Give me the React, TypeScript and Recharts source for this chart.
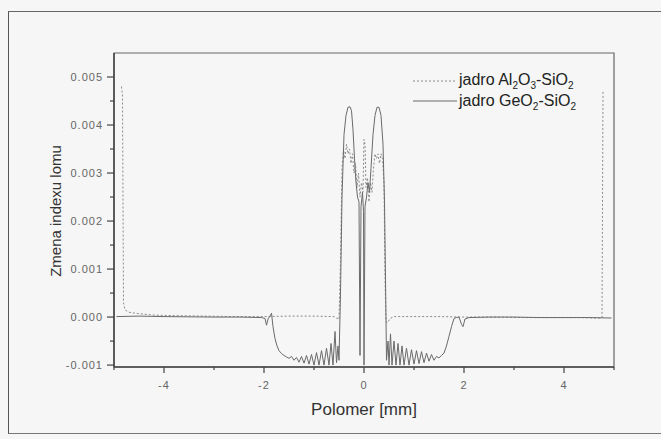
import React from 'react';
import { LineChart, Line, XAxis, YAxis, ReferenceArea } from 'recharts';

// jadro Al2O3-SiO2 (dotted)
const alX = [
  -4.85, -4.83, -4.81, -4.78, -4.7, -4.5, -4.2, -3.8, -3.2, -2.6, -2.0, -1.5, -1.0, -0.6, -0.5,
  -0.47, -0.44, -0.41, -0.38, -0.35, -0.32, -0.29, -0.26, -0.23, -0.2, -0.17, -0.14, -0.11,
  -0.08, -0.05, -0.02, 0.0, 0.02, 0.04, 0.07, 0.1, 0.13, 0.16, 0.19, 0.22, 0.25, 0.28, 0.31,
  0.34, 0.37, 0.4, 0.42, 0.44, 0.47, 0.52, 0.6, 1.0, 1.5, 2.0, 2.6, 3.2, 3.8, 4.3, 4.6, 4.76,
  4.78, 4.8,
];
const alY = [
  0.0048, 0.0046, 0.0003, 0.00015, 0.0001, 0.00007, 0.00004, 0.00003, 0.00002, 0.00001, 0.00001,
  0.00002, 0.00002, 0.00001, -0.00005,
  0.0012, 0.0031, 0.0035, 0.0033, 0.0036, 0.0034, 0.0035, 0.0032, 0.0034, 0.003, 0.0032, 0.0027,
  0.003, 0.0025, 0.0028, 0.0026, 0.0037, 0.0036, 0.0027, 0.0029, 0.0024, 0.0028, 0.0026, 0.0031,
  0.0034, 0.0033, 0.0034, 0.0032, 0.0034, 0.0033, 0.0028, 0.0008, -0.0001, -0.00012, -0.00003,
  0.00001, 0.00001, 0.00001, 0.0, 0.0, -0.00001, -0.00001, -0.00001, -0.00002, -0.00002,
  0.0047, 0.0047,
];

// jadro GeO2-SiO2 (solid)
const geX = [
  -4.95, -4.5, -4.0, -3.0, -2.5, -2.05, -1.98, -1.95, -1.92, -1.88, -1.85, -1.82, -1.78, -1.74,
  -1.7, -1.65, -1.6, -1.55, -1.5, -1.45, -1.4, -1.35, -1.3, -1.25, -1.2, -1.15, -1.1, -1.05, -1.0,
  -0.95, -0.9, -0.85, -0.8, -0.75, -0.7, -0.66, -0.62, -0.58, -0.55, -0.52, -0.5, -0.47, -0.44,
  -0.4, -0.36, -0.32, -0.28, -0.25, -0.22, -0.19, -0.16, -0.13, -0.1, -0.08, -0.06, -0.03, -0.01,
  0.0, 0.02, 0.05, 0.08, 0.11, 0.14, 0.18, 0.22, 0.26, 0.3, 0.34, 0.38, 0.41, 0.43, 0.45, 0.48,
  0.5, 0.53, 0.56, 0.6, 0.64, 0.68, 0.72, 0.76, 0.8, 0.85, 0.9, 0.95, 1.0, 1.05, 1.1, 1.15, 1.2,
  1.25, 1.3, 1.35, 1.4, 1.45, 1.5, 1.55, 1.6, 1.65, 1.7, 1.75, 1.8, 1.85, 1.9, 1.95, 1.98, 2.02,
  2.1, 2.5, 3.0, 3.5, 4.0, 4.5, 4.95,
];
const geY = [
  0.00001, 0.00002, 0.00001, 0.0, 0.0, -0.00001, -0.00003, -0.00017, -0.00004, 0.00002, 0.00008,
  -0.0002, -0.00045, -0.0006, -0.0007, -0.00076, -0.0008, -0.00083, -0.00086, -0.00082, -0.0009,
  -0.00084, -0.00094, -0.00082, -0.00096, -0.0008, -0.00098, -0.00078, -0.001, -0.00074, -0.001,
  -0.0007, -0.001, -0.00065, -0.001, -0.00055, -0.001, -0.0003, -0.00095, -0.0006, -0.0009,
  0.0005, 0.0025, 0.0038, 0.0042, 0.00437, 0.00438, 0.0043, 0.0039, 0.0033, 0.0028, 0.0025,
  0.0024, -0.0008, 0.0023, 0.0026, 0.0022, -0.001, 0.0023, 0.0025, 0.0028, 0.0026, 0.0031,
  0.0038, 0.0042, 0.00437, 0.00437, 0.0042, 0.0036, 0.0024, 0.0008, -0.0009, -0.0005, -0.001,
  -0.00035, -0.001, -0.0005, -0.001, -0.00055, -0.001, -0.0006, -0.001, -0.00065, -0.001,
  -0.00068, -0.00098, -0.0007, -0.00097, -0.00072, -0.00095, -0.00075, -0.00092, -0.00078,
  -0.0009, -0.00082, -0.00085, -0.0008, -0.00075, -0.0006, -0.0004, -0.0002, -0.00003, -0.00001,
  0.0, -0.00015, -0.0002, -0.00004, -0.00001, 0.0, 0.0, -0.00001, -0.00001, -0.00001, -0.00002,
];

const xTicks = [-5, -4, -3, -2, -1, 0, 1, 2, 3, 4, 5];
const yTicks = [
  -0.001, -0.0005, 0, 0.0005, 0.001, 0.0015, 0.002, 0.0025, 0.003, 0.0035, 0.004, 0.0045, 0.005,
];
const legendNames = ['jadro Al2O3-SiO2', 'jadro GeO2-SiO2'];

const alData = alX.map((x, i) => ({ x, y: alY[i] }));
const geData = geX.map((x, i) => ({ x, y: geY[i] }));

const tickFont = '"Liberation Sans", Arial, sans-serif';

const YTick = ({ x, y, payload }: any) => {
  const v = payload.value;
  const major = Math.round(v * 10000) % 10 === 0;
  return (
    <g>
      <line x1={x - (major ? 7 : 4)} x2={x} y1={y} y2={y} stroke="#444" strokeWidth={1.2} />
      {major && (
        <text x={x - 11} y={y} dy={4} textAnchor="end" fontSize={11} fill="#666"
          letterSpacing={1} fontFamily={tickFont}>
          {v.toFixed(3)}
        </text>
      )}
    </g>
  );
};

const XTick = ({ x, y, payload }: any) => {
  const v = payload.value;
  const major = Math.abs(v) % 2 === 0;
  return (
    <g>
      <line x1={x} x2={x} y1={y} y2={y + (major ? 6 : 3)} stroke="#444" strokeWidth={1.2} />
      {major && (
        <text x={x} y={y + 22} textAnchor="middle" fontSize={11} fill="#666"
          letterSpacing={1} fontFamily={tickFont}>
          {v}
        </text>
      )}
    </g>
  );
};

// puts the digits of the oxide formulas in subscript
const formula = (s: string) =>
  s.split(/(\d)/).map((p, i) => (/\d/.test(p) ? <sub key={i} style={{ fontSize: 10 }}>{p}</sub> : p));

export default function App() {
  return (
    <div style={{ position: 'absolute', left: 0, top: 0, width: 661, height: 439, background: '#f5f6f5', fontFamily: tickFont }}>
      <div style={{ position: 'absolute', left: 8, top: 11, width: 660, height: 421, borderLeft: '1px solid #555', borderTop: '1px solid #666', borderBottom: '1px solid #777' }} />
      <LineChart width={661} height={439} data={geData} margin={{ top: 53, right: 47, bottom: 42, left: 54 }}>
        <ReferenceArea x1={-5} x2={5} y1={-0.00104} y2={0.0055} fill="none" stroke="#666" strokeWidth={1.2} />
        <XAxis dataKey="x" type="number" domain={[-5, 5]} ticks={xTicks} allowDataOverflow
          height={30} tickSize={0} tickMargin={0} tickLine={false} interval={0}
          axisLine={{ stroke: '#444', strokeWidth: 1.5 }} tick={<XTick />} />
        <YAxis type="number" domain={[-0.00104, 0.0055]} ticks={yTicks} allowDataOverflow
          width={60} tickSize={0} tickMargin={0} tickLine={false} interval={0}
          axisLine={{ stroke: '#444', strokeWidth: 1.5 }} tick={<YTick />} />
        <Line data={alData} dataKey="y" type="linear" dot={false} stroke="#8a8a8a" strokeWidth={1}
          strokeDasharray="2 2" isAnimationActive={false} />
        <Line data={geData} dataKey="y" type="linear" dot={false} stroke="#6a6a6a" strokeWidth={1}
          isAnimationActive={false} />
      </LineChart>

      {/* legend */}
      <svg style={{ position: 'absolute', left: 0, top: 0 }} width={661} height={439} pointerEvents="none">
        <line x1={413} x2={457} y1={81} y2={81} stroke="#8a8a8a" strokeDasharray="2 2" />
        <line x1={413} x2={457} y1={101} y2={101} stroke="#6a6a6a" />
      </svg>
      {legendNames.map((n, i) => (
        <div key={n} style={{ position: 'absolute', left: 459, top: 71 + i * 21, fontSize: 16, lineHeight: '18px', color: '#222', whiteSpace: 'nowrap' }}>
          {formula(n)}
        </div>
      ))}

      {/* axis titles */}
      <div style={{ position: 'absolute', left: 55, top: 211, transform: 'translate(-50%, -50%) rotate(-90deg)', fontSize: 15, color: '#333', whiteSpace: 'nowrap' }}>
        Zmena indexu lomu
      </div>
      <div style={{ position: 'absolute', left: 364, top: 410, transform: 'translate(-50%, -50%)', fontSize: 17, color: '#333', whiteSpace: 'nowrap' }}>
        Polomer [mm]
      </div>
    </div>
  );
}
